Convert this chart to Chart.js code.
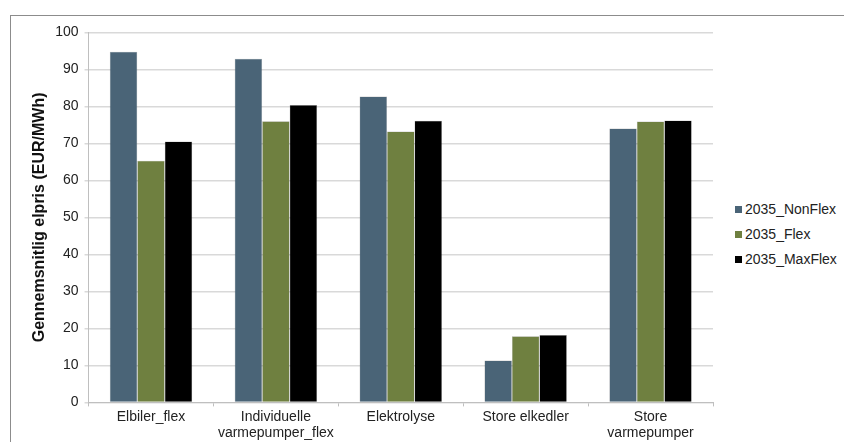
<!DOCTYPE html>
<html>
<head>
<meta charset="utf-8">
<script src="https://cdn.jsdelivr.net/npm/chart.js@4"></script>
<style>
	body { margin: 0; background: #fff; width: 844px; height: 442px; overflow: hidden; position: relative; font-family: "Liberation Sans", Arial, sans-serif; }
	#frame { position: absolute; left: 10px; top: 15px; width: 900px; height: 500px; border-top: 1px solid #8c8c8c; border-left: 1px solid #8c8c8c; }
	#wrap { position: absolute; left: 11px; top: 18px; width: 714px; height: 426px; }
	#legend { position: absolute; left: 735px; top: 200px; font-size: 14px; color: #222; }
	#legend div { height: 25px; line-height: 18px; white-space: nowrap; }
	#legend span { display: inline-block; width: 7px; height: 7px; margin-right: 3px; vertical-align: 1px; }
</style>
</head>
<body>
<div id="frame"></div>
<div id="wrap"><canvas id="chart"></canvas></div>
<div id="legend"></div>
<script>
const categories = [['Elbiler_flex'], ['Individuelle', 'varmepumper_flex'], ['Elektrolyse'], ['Store elkedler'], ['Store', 'varmepumper']];
const nonFlex = [94.8, 92.9, 82.7, 11.3, 74.0];
const flex = [65.3, 76.0, 73.2, 17.9, 75.9];
const maxFlex = [70.5, 80.4, 76.1, 18.2, 76.2];
const seriesNames = ['2035_NonFlex', '2035_Flex', '2035_MaxFlex'];
const seriesColors = ['#4a6477', '#6f8040', '#000000'];
const yTicks = [0, 10, 20, 30, 40, 50, 60, 70, 80, 90, 100];

let tickFont = { family: '"Liberation Sans", Arial, sans-serif', size: 14 };

let chartData = {
	labels: categories,
	datasets: [nonFlex, flex, maxFlex].map((d, i) => ({
		label: seriesNames[i],
		data: d,
		backgroundColor: seriesColors[i],
		borderColor: 'rgba(0,0,0,0.35)',
		borderWidth: 0.5,
		barPercentage: 1,
		categoryPercentage: 0.66,
	})),
};

let chartOptions = {
	responsive: true,
	maintainAspectRatio: false,
	animation: false,
	layout: {
		padding: { top: 5, right: 12, left: 19, bottom: 0 }
	},
	scales: {
		x: {
			grid: {
				drawOnChartArea: false,
				color: '#bfbfbf',
				tickLength: 4,
			},
			border: { color: '#bfbfbf' },
			ticks: {
				color: '#222',
				font: tickFont,
				maxRotation: 0,
				autoSkip: false,
				padding: 2,
			},
		},
		y: {
			min: 0,
			max: 100,
			afterBuildTicks: (axis) => { axis.ticks = yTicks.map(v => ({ value: v })); },
			grid: {
				color: '#d9d9d9',
				lineWidth: 1.5,
				tickLength: 4,
			},
			border: { color: '#bfbfbf' },
			ticks: {
				color: '#222',
				font: tickFont,
				padding: 6,
			},
			title: {
				display: true,
				text: 'Gennemsnitlig elpris (EUR/MWh)',
				color: '#111',
				font: { family: '"Liberation Sans", Arial, sans-serif', size: 16, weight: 'bold' },
				padding: { top: 0, bottom: 0 },
			},
		},
	},
	plugins: {
		legend: { display: false },
		tooltip: { enabled: false },
	},
};

// legend built by hand so it sits where the original has it
let legendEl = document.getElementById('legend');
seriesNames.forEach((name, i) => {
	let row = document.createElement('div');
	row.innerHTML = '<span style="background:' + seriesColors[i] + '"></span>' + name;
	legendEl.appendChild(row);
});

const ctx = document.getElementById('chart');
let barChart = new Chart(ctx, { type: 'bar', data: chartData, options: chartOptions });
</script>
</body>
</html>
